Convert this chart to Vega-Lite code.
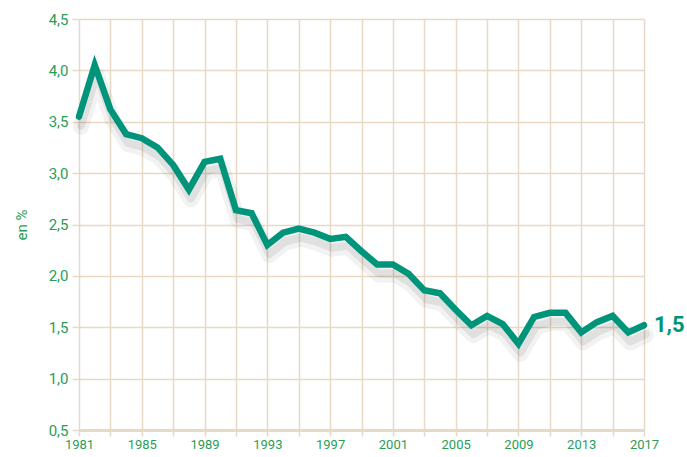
{
  "$schema": "https://vega.github.io/schema/vega-lite/v6.json",
  "width": 565,
  "height": 411,
  "autosize": {"type": "none"},
  "padding": {"left": 79, "top": 19, "right": 43, "bottom": 27},
  "background": "white",
  "config": {
    "view": {"stroke": null},
    "font": "Roboto",
    "axis": {"labelFont": "Roboto", "titleFont": "Roboto"}
  },
  "data": {
    "values": [
      {"year": 1981, "value": 3.55},
      {"year": 1982, "value": 4.05},
      {"year": 1983, "value": 3.62},
      {"year": 1984, "value": 3.38},
      {"year": 1985, "value": 3.34},
      {"year": 1986, "value": 3.25},
      {"year": 1987, "value": 3.08},
      {"year": 1988, "value": 2.84},
      {"year": 1989, "value": 3.11},
      {"year": 1990, "value": 3.14},
      {"year": 1991, "value": 2.64},
      {"year": 1992, "value": 2.61},
      {"year": 1993, "value": 2.3},
      {"year": 1994, "value": 2.42},
      {"year": 1995, "value": 2.46},
      {"year": 1996, "value": 2.42},
      {"year": 1997, "value": 2.36},
      {"year": 1998, "value": 2.38},
      {"year": 1999, "value": 2.24},
      {"year": 2000, "value": 2.11},
      {"year": 2001, "value": 2.11},
      {"year": 2002, "value": 2.02},
      {"year": 2003, "value": 1.86},
      {"year": 2004, "value": 1.83},
      {"year": 2005, "value": 1.67},
      {"year": 2006, "value": 1.52},
      {"year": 2007, "value": 1.61},
      {"year": 2008, "value": 1.53},
      {"year": 2009, "value": 1.34},
      {"year": 2010, "value": 1.6},
      {"year": 2011, "value": 1.64},
      {"year": 2012, "value": 1.64},
      {"year": 2013, "value": 1.45},
      {"year": 2014, "value": 1.55},
      {"year": 2015, "value": 1.61},
      {"year": 2016, "value": 1.45},
      {"year": 2017, "value": 1.52, "label": "1,5"}
    ]
  },
  "encoding": {
    "x": {
      "field": "year",
      "type": "quantitative",
      "scale": {"domain": [1981, 2017], "nice": false, "zero": false},
      "axis": {
        "title": null,
        "values": [1981, 1983, 1985, 1987, 1989, 1991, 1993, 1995, 1997, 1999, 2001, 2003, 2005, 2007, 2009, 2011, 2013, 2015, 2017],
        "labelExpr": "(datum.value - 1981) % 4 == 0 ? format(datum.value, 'd') : ''",
        "grid": true,
        "gridColor": "#e8d9c7",
        "gridWidth": 1.5,
        "domain": true,
        "domainColor": "#e8d9c7",
        "domainWidth": 3,
        "ticks": true,
        "tickColor": "#e8d9c7",
        "tickWidth": 1.5,
        "tickSize": 6,
        "labelColor": "#2a9d55",
        "labelFontSize": 13,
        "labelPadding": 2,
        "labelFlush": false
      }
    },
    "y": {
      "field": "value",
      "type": "quantitative",
      "scale": {"domain": [0.5, 4.5], "nice": false, "zero": false},
      "axis": {
        "title": "en %",
        "titleColor": "#2a9d55",
        "titleFontSize": 15,
        "titleFontWeight": "normal",
        "titlePadding": 19,
        "values": [0.5, 1, 1.5, 2, 2.5, 3, 3.5, 4, 4.5],
        "labelExpr": "replace(format(datum.value, '.1f'), '.', ',')",
        "grid": true,
        "gridColor": "#e8d9c7",
        "gridWidth": 1.5,
        "domain": false,
        "ticks": true,
        "tickColor": "#e8d9c7",
        "tickWidth": 1.5,
        "tickSize": 7,
        "labelColor": "#2a9d55",
        "labelFontSize": 15,
        "labelPadding": 4
      }
    }
  },
  "layer": [
    {
      "mark": {"type": "line", "color": "#000000", "opacity": 0.05, "strokeWidth": 16, "yOffset": 10, "xOffset": 2, "strokeJoin": "round", "strokeCap": "round"}
    },
    {
      "mark": {"type": "line", "color": "#000000", "opacity": 0.07, "strokeWidth": 8, "yOffset": 9, "xOffset": 2, "strokeJoin": "round", "strokeCap": "round"}
    },
    {
      "mark": {"type": "line", "color": "#00957a", "strokeWidth": 6.5, "strokeJoin": "miter", "strokeCap": "round"}
    },
    {
      "transform": [{"filter": "datum.label != null"}],
      "mark": {"type": "text", "align": "left", "dx": 10, "dy": 0, "fontSize": 22, "fontWeight": "bold", "color": "#00957a", "baseline": "middle"},
      "encoding": {"text": {"field": "label"}}
    }
  ]
}
